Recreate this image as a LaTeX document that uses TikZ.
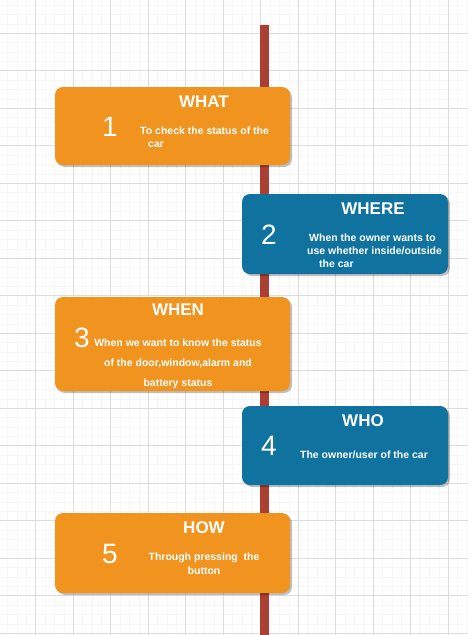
\documentclass[tikz,border=0pt]{standalone}
\usepackage{fontspec}
\setmainfont{Liberation Sans}
\usetikzlibrary{shadows}

\definecolor{cardorange}{RGB}{240,147,31}
\definecolor{cardblue}{RGB}{16,114,159}
\definecolor{barred}{RGB}{169,64,51}
\definecolor{gridminor}{RGB}{246,246,246}
\definecolor{gridmajor}{RGB}{220,220,220}

\begin{document}
\begin{tikzpicture}[x=1pt, y=-1pt,
		card/.style={rectangle, rounded corners=8pt, inner sep=0pt,
			drop shadow={shadow xshift=2pt, shadow yshift=-2pt, fill=black, opacity=0.25}},
		wide/.style={card, fill=cardorange, minimum width=235pt},
		narrow/.style={card, fill=cardblue, minimum width=206pt},
		title/.style={white, inner sep=0pt, font=\bfseries\fontsize{17}{20}\selectfont},
		number/.style={white, inner sep=0pt, font=\fontsize{28}{32}\selectfont},
		desc/.style={white, inner sep=0pt, font=\bfseries\fontsize{10.5}{13}\selectfont}]

			\useasboundingbox (0,0) rectangle (468,635);
			\fill [white] (0,0) rectangle (468,635);

			% grid
			\foreach \i in {0,...,49}
				\draw [gridminor, line width=0.7pt] ({7.6+9.375*\i},0) -- ({7.6+9.375*\i},635);
			\foreach \i in {0,...,67}
				\draw [gridminor, line width=0.7pt] (0,{5.2+9.375*\i}) -- (468,{5.2+9.375*\i});
			\foreach \i in {0,...,11}
				\draw [gridmajor, line width=0.8pt] ({35.7+37.5*\i},0) -- ({35.7+37.5*\i},635);
			\foreach \i in {0,...,16}
				\draw [gridmajor, line width=0.8pt] (0,{33.3+37.5*\i}) -- (468,{33.3+37.5*\i});

			% time line
			\fill [barred] (260,25) rectangle (269,635);

			\node [wide, minimum height=78pt]   (what)  at (172.5,126)   {};
			\node [narrow, minimum height=80pt] (where) at (345,234)     {};
			\node [wide, minimum height=94pt]   (when)  at (172.5,344)   {};
			\node [narrow, minimum height=79pt] (who)   at (345,445.5)   {};
			\node [wide, minimum height=80pt]   (how)   at (172.5,553)   {};

			\node [title] (whatT)  at (204,102) {WHAT};
			\node [title] (whereT) at (373,209) {WHERE};
			\node [title] (whenT)  at (178,310) {WHEN};
			\node [title] (whoT)   at (363,421) {WHO};
			\node [title] (howT)   at (204,528) {HOW};

			\node [number] (n1) at (110,127) {1};
			\node [number] (n2) at (269,235) {2};
			\node [number] (n3) at (82,338)  {3};
			\node [number] (n4) at (269,446) {4};
			\node [number] (n5) at (110,554) {5};

			\node [desc, align=left, anchor=west] (whatD) at (140,137.5)
				{To check the status of the\\\hspace*{8pt}car};
			\node [desc, align=left, anchor=west] (whereD) at (307,250.7)
				{\hspace*{2pt}When the owner wants to\\use whether inside/outside\\\hspace*{12pt}the car};
			\node [desc, align=center, font=\bfseries\fontsize{10.5}{20}\selectfont] (whenD) at (178,364)
				{When we want to know the status\\of the door,window,alarm and\\battery status};
			\node [desc] (whoD) at (364,455) {The owner/user of the car};
			\node [desc, align=center, font=\bfseries\fontsize{10.5}{14}\selectfont] (howD) at (204,563.7)
				{Through pressing\ \ the\\button};
		\end{tikzpicture}
\end{document}
